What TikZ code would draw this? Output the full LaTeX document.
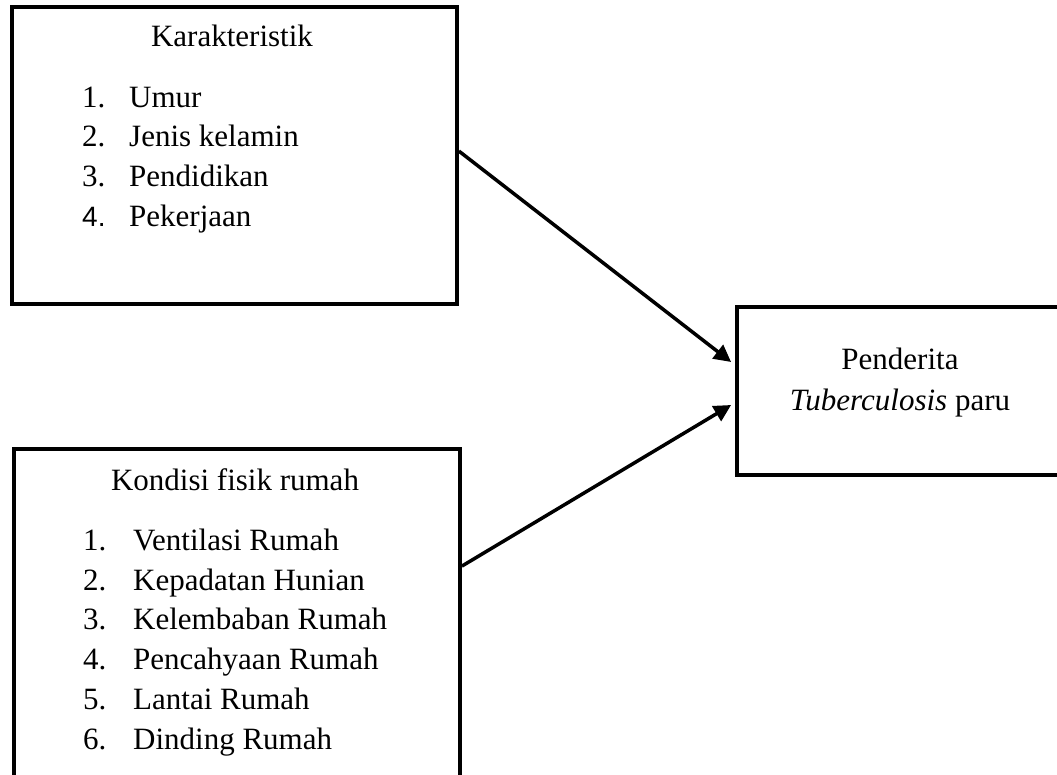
\documentclass[tikz,border=0pt]{standalone}
\usepackage{fontspec}
\setmainfont{Liberation Serif}
\newfontfamily\sansf{Liberation Sans}
\usetikzlibrary{arrows.meta,calc}
\begin{document}
\begin{tikzpicture}[x=1pt,y=-1pt,
  box/.style={draw,line width=3.8pt,rectangle,inner sep=0pt},
  txt/.style={inner sep=0pt,font=\fontsize{31}{40}\selectfont},
  arr/.style={line width=3.5pt,-{Triangle[length=17pt,width=17pt]}}]
\useasboundingbox (0,0) rectangle (1057,775);
\begin{scope}
\clip (0,0) rectangle (1057,775);
\node[box,minimum width=445pt,minimum height=297pt] (box1) at (234.5,155.5) {};
\node[box,minimum width=446pt,minimum height=341pt] (box2) at (237,619.5) {};
\node[box,minimum width=333pt,minimum height=168pt] (box3) at (903.5,391) {};
\end{scope}
% box 1 text
\node[txt,anchor=base] (t1) at (232,47) {Karakteristik};
\node[txt,anchor=base west] (n11) at (82,108) {1.};
\node[txt,anchor=base west] (i11) at (129,108) {Umur};
\node[txt,anchor=base west] (n12) at (82,147) {2.};
\node[txt,anchor=base west] (i12) at (129,147) {Jenis kelamin};
\node[txt,anchor=base west] (n13) at (82,187) {3.};
\node[txt,anchor=base west] (i13) at (129,187) {Pendidikan};
\node[txt,anchor=base west,font=\sansf\fontsize{28}{40}\selectfont] (n14) at (82,227) {4.};
\node[txt,anchor=base west] (i14) at (129,227) {Pekerjaan};
% box 2 text
\node[txt,anchor=base] (t2) at (235,490) {Kondisi fisik rumah};
\node[txt,anchor=base west] (n21) at (83,550) {1.};
\node[txt,anchor=base west] (i21) at (133,550) {Ventilasi Rumah};
\node[txt,anchor=base west] (n22) at (83,590) {2.};
\node[txt,anchor=base west] (i22) at (133,590) {Kepadatan Hunian};
\node[txt,anchor=base west] (n23) at (83,629) {3.};
\node[txt,anchor=base west] (i23) at (133,629) {Kelembaban Rumah};
\node[txt,anchor=base west] (n24) at (83,669) {4.};
\node[txt,anchor=base west] (i24) at (133,669) {Pencahyaan Rumah};
\node[txt,anchor=base west] (n25) at (83,709) {5.};
\node[txt,anchor=base west] (i25) at (133,709) {Lantai Rumah};
\node[txt,anchor=base west] (n26) at (83,749) {6.};
\node[txt,anchor=base west] (i26) at (133,749) {Dinding Rumah};
% box 3 text
\node[txt,anchor=base] (t3a) at (900,370) {Penderita};
\node[txt,anchor=base] (t3b) at (900,410) {\textit{Tuberculosis} paru};
% arrows
\draw[arr] ($(box1.north east)+(0,146)$) -- ($(box3.west)+(-4,-29)$);
\draw[arr] ($(box2.north east)+(0,119)$) -- ($(box3.west)+(-4,14)$);
\end{tikzpicture}
\end{document}
